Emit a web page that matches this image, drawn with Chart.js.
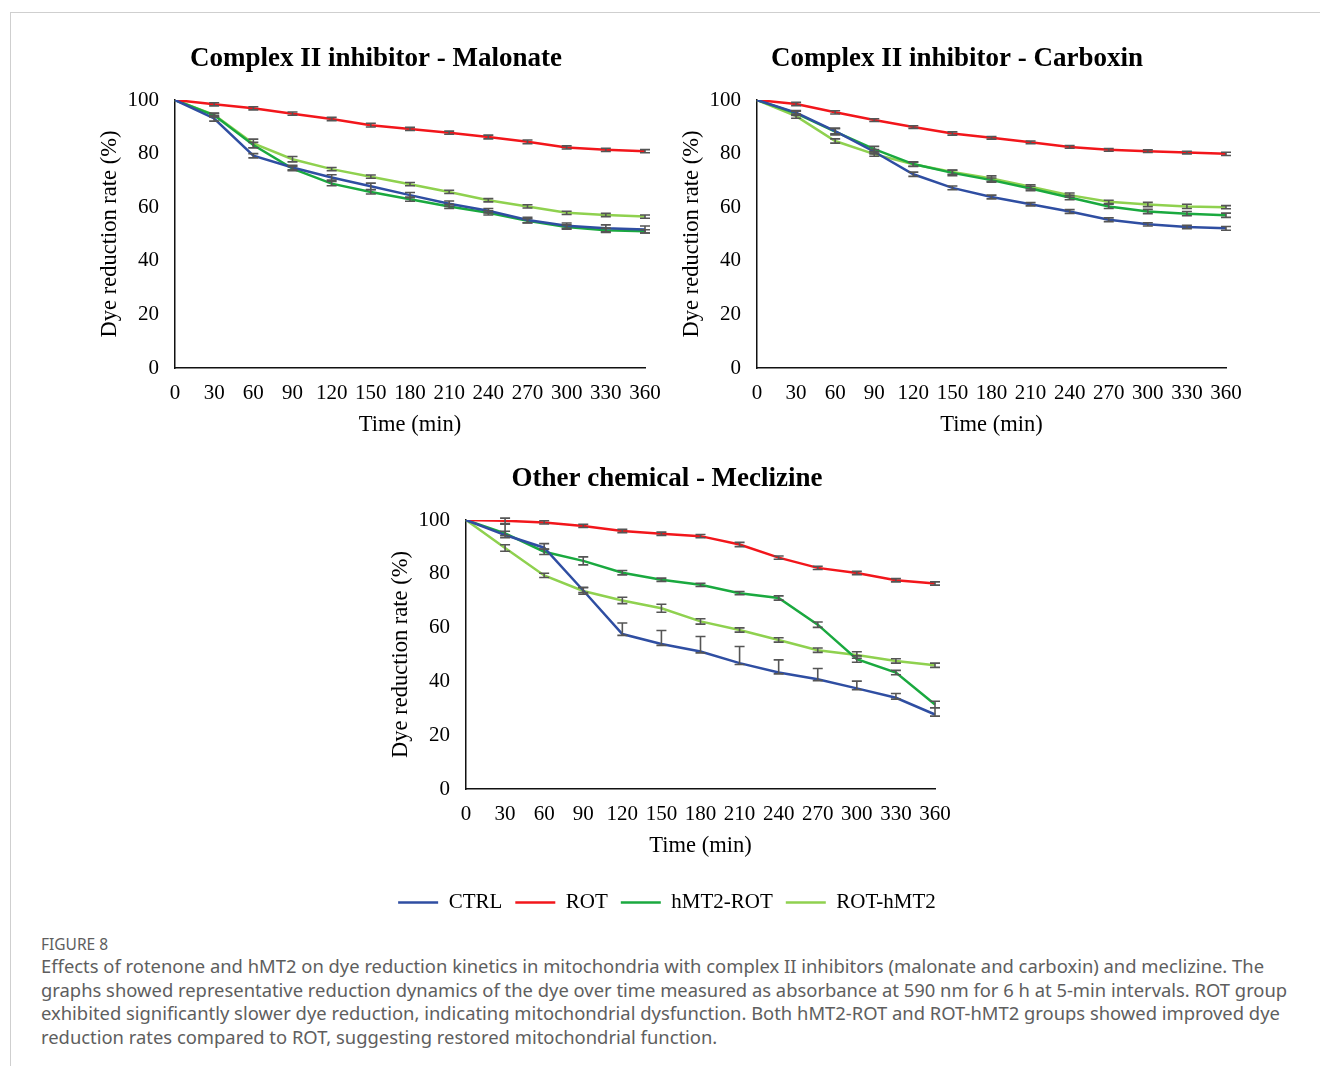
<!DOCTYPE html>
<html>
<head>
<meta charset="utf-8">
<script src="https://cdn.jsdelivr.net/npm/chart.js@4.4.1/dist/chart.umd.min.js"></script>
<style>
  body { margin: 0; background: #fff; width: 1320px; height: 1066px; position: relative; overflow: hidden; }
  #frame { position: absolute; left: 10px; top: 12px; right: 0; bottom: 0; border-top: 1px solid #cfcfcf; border-left: 1px solid #cfcfcf; }
  canvas { position: absolute; }
  #caption { position: absolute; left: 41px; top: 934px; font-family: "Noto Sans", sans-serif; color: #5e5e5e; white-space: nowrap; }
  #caption .fig { font-size: 15.5px; line-height: 20px; }
  #caption .txt { font-size: 18.4px; line-height: 23.7px; }
</style>
</head>
<body>
<div id="frame"></div>
<canvas id="malonate" width="592" height="410" style="left:80px;top:30px"></canvas>
<canvas id="carboxin" width="590" height="410" style="left:662px;top:30px"></canvas>
<canvas id="meclizine" width="592" height="473" style="left:371px;top:450px"></canvas>
<div id="caption">
  <div class="fig">FIGURE 8</div>
  <div class="txt">Effects of rotenone and hMT2 on dye reduction kinetics in mitochondria with complex II inhibitors (malonate and carboxin) and meclizine. The<br>graphs showed representative reduction dynamics of the dye over time measured as absorbance at 590 nm for 6 h at 5-min intervals. ROT group<br>exhibited significantly slower dye reduction, indicating mitochondrial dysfunction. Both hMT2-ROT and ROT-hMT2 groups showed improved dye<br>reduction rates compared to ROT, suggesting restored mitochondrial function.</div>
</div>
<script>
// time points (min)
const times = [0, 30, 60, 90, 120, 150, 180, 210, 240, 270, 300, 330, 360];
const groupNames = ['CTRL', 'ROT', 'hMT2-ROT', 'ROT-hMT2'];
const groupColors = ['#2f4ea2', '#f2161b', '#1aa93f', '#8fd14f'];

// Complex II inhibitor - Malonate
const malonateCtrl   = [100, 93.1, 79.2, 74.8, 71.1, 67.8, 64.5, 61.3, 58.7, 55.2, 53.1, 52.1, 51.7];
const malonateRot    = [100, 98.4, 96.9, 94.9, 92.9, 90.6, 89.2, 87.8, 86.2, 84.4, 82.3, 81.4, 80.9];
const malonateHmtRot = [100, 94.3, 83.2, 74.4, 68.8, 65.7, 63.0, 60.3, 57.9, 54.9, 52.6, 51.4, 51.0];
const malonateRotHmt = [100, 94.5, 83.8, 77.9, 74.2, 71.4, 68.6, 65.7, 62.6, 60.3, 57.9, 57.1, 56.5];
const malonateCtrlErr   = [0, 1.0, 0.8, 0.8, 1.0, 1.2, 1.0, 1.0, 0.8, 1.0, 1.0, 1.3, 1.3];
const malonateRotErr    = [0, 0.6, 0.6, 0.6, 0.6, 0.7, 0.6, 0.6, 0.7, 0.7, 0.6, 0.6, 0.6];
const malonateHmtRotErr = [0, 0.6, 1.0, 0.8, 0.8, 0.8, 0.8, 0.8, 0.8, 0.8, 0.8, 0.8, 0.6];
const malonateRotHmtErr = [0, 0.6, 1.6, 1.0, 0.6, 0.6, 0.6, 0.6, 0.6, 0.6, 0.6, 0.6, 0.6];

// Complex II inhibitor - Carboxin
const carboxinCtrl   = [100, 95.3, 88.4, 80.7, 72.3, 67.2, 63.8, 61.1, 58.4, 55.3, 53.6, 52.6, 52.1];
const carboxinRot    = [100, 98.5, 95.4, 92.5, 89.9, 87.5, 85.9, 84.2, 82.5, 81.4, 80.9, 80.4, 79.9];
const carboxinHmtRot = [100, 95.0, 88.2, 81.7, 76.1, 72.8, 70.1, 67.0, 63.6, 60.3, 58.4, 57.6, 57.0];
const carboxinRotHmt = [100, 94.0, 84.7, 79.8, 76.0, 73.1, 70.7, 67.6, 64.5, 62.0, 61.0, 60.3, 60.0];
const carboxinCtrlErr   = [0, 0.8, 1.0, 0.8, 0.8, 0.7, 0.7, 0.6, 0.7, 0.7, 0.6, 0.6, 0.7];
const carboxinRotErr    = [0, 0.6, 0.6, 0.5, 0.5, 0.6, 0.5, 0.5, 0.5, 0.5, 0.5, 0.5, 0.6];
const carboxinHmtRotErr = [0, 0.8, 1.2, 1.0, 0.8, 1.0, 0.8, 0.8, 0.8, 0.8, 0.8, 0.8, 0.8];
const carboxinRotHmtErr = [0, 0.8, 0.8, 0.8, 0.8, 0.8, 1.0, 0.8, 0.8, 0.6, 0.8, 0.8, 0.6];

// Other chemical - Meclizine
const meclizineCtrl   = [100, 94.4, 89.7, 73.8, 57.6, 53.9, 51.1, 46.8, 43.3, 40.8, 37.4, 33.9, 27.7];
const meclizineRot    = [100, 99.7, 99.1, 97.8, 95.9, 94.9, 94.0, 90.9, 86.0, 82.2, 80.3, 77.6, 76.4];
const meclizineHmtRot = [100, 95.0, 88.2, 84.8, 80.4, 77.8, 75.9, 72.8, 71.0, 61.1, 48.3, 43.3, 31.4];
const meclizineRotHmt = [100, 89.6, 79.4, 73.6, 70.1, 67.2, 62.3, 59.1, 55.4, 51.6, 49.8, 47.6, 46.0];
const meclizineCtrlErrUp   = [0, 4.0, 1.5, 1.2, 4.1, 5.0, 5.6, 6.2, 4.7, 4.0, 2.7, 1.6, 2.5];
const meclizineCtrlErrDown = [0, 1.0, 0.6, 0.8, 0.5, 0.5, 0.5, 0.5, 0.5, 0.5, 0.5, 0.5, 0.6];
const meclizineRotErr    = [0, 1.0, 0.6, 0.6, 0.6, 0.6, 0.6, 0.8, 0.6, 0.6, 0.6, 0.6, 0.6];
const meclizineHmtRotErr = [0, 0.8, 1.0, 1.5, 0.8, 0.6, 0.6, 0.6, 0.8, 1.0, 1.2, 0.8, 1.2];
const meclizineRotHmtErr = [0, 1.2, 0.8, 1.2, 1.2, 1.5, 1.0, 0.8, 0.8, 0.8, 1.2, 0.8, 0.8];

const serif = '"Liberation Serif", "Times New Roman", serif';

// draws vertical error bars with caps on top of the lines
const errorBars = {
    id: 'errorBars',
    afterDatasetsDraw(chart) {
        const ctx = chart.ctx;
        const y = chart.scales.y;
        ctx.save();
        ctx.strokeStyle = '#555';
        ctx.lineWidth = 1.6;
        chart.data.datasets.forEach((ds, i) => {
            const meta = chart.getDatasetMeta(i);
            meta.data.forEach((pt, j) => {
                const up = ds.errUp[j], down = ds.errDown[j];
                if (!up && !down) return;
                const v = ds.data[j];
                const top = y.getPixelForValue(v + up);
                const bot = y.getPixelForValue(v - down);
                ctx.beginPath();
                ctx.moveTo(pt.x, top); ctx.lineTo(pt.x, bot);
                ctx.moveTo(pt.x - 5, top); ctx.lineTo(pt.x + 5, top);
                ctx.moveTo(pt.x - 5, bot); ctx.lineTo(pt.x + 5, bot);
                ctx.stroke();
            });
        });
        ctx.restore();
    }
};

function series(values, errUp, errDown) {
    return { values: values, errUp: errUp, errDown: errDown || errUp };
}

function makeChart(id, title, groups, showLegend, rightPad) {
    const ctx = document.getElementById(id).getContext('2d');
    // with the legend below, the x axis box is taller so the legend sits lower
    const extra = showLegend ? 18 : 0;
    return new Chart(ctx, {
        type: 'line',
        data: {
            labels: times,
            datasets: groups.map((g, i) => ({
                label: groupNames[i],
                data: g.values,
                errUp: g.errUp,
                errDown: g.errDown,
                borderColor: groupColors[i],
                backgroundColor: groupColors[i],
                borderWidth: 2.5,
                pointRadius: 0,
                pointStyle: 'line',
                tension: 0
            }))
        },
        options: {
            responsive: false,
            animation: false,
            plugins: {
                title: {
                    display: true,
                    text: title,
                    color: '#000',
                    font: { family: serif, size: 27, weight: 'bold' },
                    padding: { top: 13, bottom: 24.6 }
                },
                legend: {
                    display: showLegend,
                    position: 'bottom',
                    labels: {
                        color: '#000',
                        font: { family: serif, size: 21 },
                        usePointStyle: true,
                        pointStyle: 'line',
                        pointStyleWidth: 40,
                        padding: 13
                    }
                },
                tooltip: { enabled: false }
            },
            scales: {
                x: {
                    grid: { display: false, drawTicks: false },
                    border: { display: true, color: '#111', width: 1.5 },
                    ticks: { color: '#000', font: { family: serif, size: 21 }, padding: 13, maxRotation: 0, autoSkip: false },
                    title: { display: true, text: 'Time (min)', color: '#000', font: { family: serif, size: 22.5 }, padding: { top: 4, bottom: 1 + extra } },
                    // keep the plot's right edge in place without shifting the centred title
                    afterFit: function (scale) { scale.height = 72 + extra; scale.paddingRight = rightPad; }
                },
                y: {
                    min: 0,
                    max: 100,
                    grid: { display: false, drawTicks: false },
                    border: { display: true, color: '#111', width: 1.5 },
                    ticks: { stepSize: 20, color: '#000', font: { family: serif, size: 21 }, padding: 16 },
                    title: { display: true, text: 'Dye reduction rate (%)', color: '#000', font: { family: serif, size: 22.5 }, padding: { top: 16.5, bottom: 4 } },
                    afterFit: function (scale) { scale.width = 95; }
                }
            }
        },
        plugins: [errorBars]
    });
}

makeChart('malonate', 'Complex II inhibitor - Malonate', [
    series(malonateCtrl, malonateCtrlErr),
    series(malonateRot, malonateRotErr),
    series(malonateHmtRot, malonateHmtRotErr),
    series(malonateRotHmt, malonateRotHmtErr)
], false, 27);

makeChart('carboxin', 'Complex II inhibitor - Carboxin', [
    series(carboxinCtrl, carboxinCtrlErr),
    series(carboxinRot, carboxinRotErr),
    series(carboxinHmtRot, carboxinHmtRotErr),
    series(carboxinRotHmt, carboxinRotHmtErr)
], false, 26);

makeChart('meclizine', 'Other chemical - Meclizine', [
    series(meclizineCtrl, meclizineCtrlErrUp, meclizineCtrlErrDown),
    series(meclizineRot, meclizineRotErr),
    series(meclizineHmtRot, meclizineHmtRotErr),
    series(meclizineRotHmt, meclizineRotHmtErr)
], true, 28);
</script>
</body>
</html>
